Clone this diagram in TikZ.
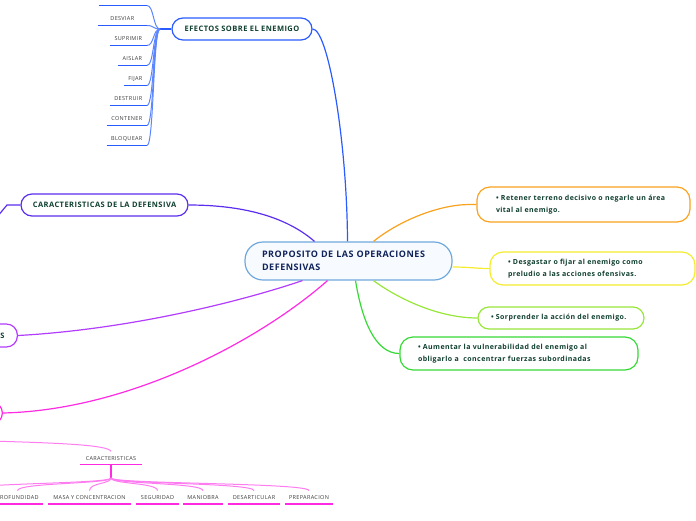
\documentclass[tikz,border=0pt]{standalone}
\usepackage{fontspec}
\setmainfont{Open Sans}[LetterSpace=6]
\usetikzlibrary{calc}

\definecolor{cenline}{HTML}{6FA8DC}
\definecolor{cenfill}{HTML}{F7FBFF}
\definecolor{centext}{HTML}{10235A}
\definecolor{boxtext}{HTML}{0F3F30}
\definecolor{leaftext}{HTML}{3A3A3A}
\definecolor{efblue}{HTML}{2A5BFF}
\definecolor{eflight}{HTML}{5C86FF}
\definecolor{cdblue}{HTML}{5B2DEF}
\definecolor{violetc}{HTML}{B23CFF}
\definecolor{magentac}{HTML}{FF2BE2}
\definecolor{magentalight}{HTML}{FF7CF0}
\definecolor{orangec}{HTML}{F9A21E}
\definecolor{yellowc}{HTML}{F4EC2C}
\definecolor{limec}{HTML}{98E63A}
\definecolor{greenc}{HTML}{36D936}

\begin{document}
\begin{tikzpicture}[x=1pt, y=-1pt,
  topic/.style={draw=#1, line width=1.2pt, rounded corners=11pt, fill=white,
    font=\bfseries\fontsize{7.5}{9}\selectfont, text=boxtext, minimum height=22pt},
  idea/.style={draw=#1, line width=1.2pt, rounded corners=13pt, fill=white, align=left,
    font=\bfseries\fontsize{7}{12}\selectfont, text=boxtext, inner xsep=18pt},
  leaf/.style={font=\fontsize{5.5}{6}\selectfont, text=leaftext, inner xsep=4pt,
    inner ysep=4.5pt, text depth=0pt},
  ul/.style={draw=#1, line width=1.5pt},
  link/.style={draw=#1, line width=1.2pt}]

\useasboundingbox (0,0) rectangle (696,520);
\clip (0,0) rectangle (696,520);

% central topic
\node[draw=cenline, fill=cenfill, line width=1.2pt, rounded corners=18pt, text width=173pt,
  inner xsep=17pt, minimum height=38pt, align=left, text=centext,
  font=\bfseries\fontsize{9}{13}\selectfont] (cen) at (348.5,261)
  {PROPOSITO DE LAS OPERACIONES\\DEFENSIVAS};

% right side
\node[idea=orangec, text width=175pt, inner xsep=19pt, minimum height=35pt] (ret) at (583.5,204.5)
  {• Retener terreno decisivo o negarle un área\\vital al enemigo.};
\node[idea=yellowc, text width=169pt, minimum height=33pt] (des) at (592.5,268.5)
  {• Desgastar o fijar al enemigo como\\preludio a las acciones ofensivas.};
\node[idea=limec, text width=140pt, inner xsep=13pt, minimum height=22pt, rounded corners=11pt] (sor) at (561,318)
  {• Sorprender la acción del enemigo.};
\node[idea=greenc, text width=202pt, minimum height=33pt] (aum) at (519,353.5)
  {• Aumentar la vulnerabilidad del enemigo al\\obligarlo a~ concentrar fuerzas subordinadas};

% left side
\node[topic=efblue, minimum width=140pt] (ef) at (242,29) {EFECTOS SOBRE EL ENEMIGO};
\node[topic=cdblue, minimum width=167pt] (cd) at (104.5,205) {CARACTERISTICAS DE LA DEFENSIVA};
\node[topic=violetc, text width=80pt, align=right, inner xsep=13pt, minimum height=23pt, anchor=east] (pri) at (18,335.5) {AS};
\node[topic=magentac, minimum width=60pt, anchor=east] (mag) at (3,413) {};

% main branches
\draw[link=efblue] ([xshift=-1pt]cen.north) .. controls (347,140) and (328,29) .. (ef.east);
\draw[link=cdblue] ([xshift=-34pt]cen.north) .. controls (290,220) and (250,205) .. (cd.east);
\draw[link=orangec] ([xshift=25pt]cen.north) .. controls (400,220) and (440,204.5) .. ([xshift=-7pt]ret.west) -- (ret.west);
\draw[link=yellowc] ([yshift=-6pt]cen.east) .. controls (470,267) and (475,268.5) .. (des.west);
\draw[link=limec] ([xshift=25pt]cen.south) .. controls (400,300) and (440,318) .. (sor.west);
\draw[link=greenc] ([xshift=7pt]cen.south) .. controls (362,320) and (375,353.5) .. (aum.west);
\draw[link=violetc] ([xshift=-46pt]cen.south) .. controls (230,305) and (120,330) .. (pri.east);
\draw[link=magentac] ([xshift=-21pt]cen.south) .. controls (260,340) and (130,410) .. (mag.east);

% efectos
\coordinate (efj) at (160,29);
\draw[link=efblue] (ef.west) -- (efj);
\foreach \name/\yy/\w [count=\i] in {NEUTRALIZAR/5.5/48, DESVIAR/25.5/49, SUPRIMIR/45.5/37,
    AISLAR/65.5/29, FIJAR/85.5/23, DESTRUIR/105.5/37, CONTENER/125.5/40, BLOQUEAR/145.5/40}{
  \node[leaf, anchor=south east, minimum width=\w pt] (ef\i) at (147,\yy) {\name};
  \draw[ul=efblue] (ef\i.south west) -- (ef\i.south east);
  \draw[link=eflight, line width=1pt] (efj) .. controls +(-7,0) and +(7,0) .. (ef\i.south east);
}

% caracteristicas de la defensiva, hidden child
\coordinate (cdl) at (7,205);
\coordinate (cdc) at (-3,217);
\draw[link=cdblue] (cd.west) -- (cdl) -- (cdc);

% caracteristicas (lower)
\coordinate (carin) at (-10,441);
\node[leaf, minimum width=62pt] (car) at (111,458) {CARACTERISTICAS};
\draw[ul=magentac] (car.south west) -- (car.south east);
\draw[link=magentalight, line width=1pt] (carin) .. controls (60,443) and (108,445) .. (car.north);
\coordinate (cstub) at (111,478);
\draw[link=magentac, line width=1.5pt] (car.south) -- (cstub);
\coordinate (chx) at (-45,491);
\draw[link=magentalight, line width=1pt] (cstub) .. controls +(0,6) and +(0,-8) .. (chx);
\foreach \name/\xx/\w [count=\i] in {PROFUNDIDAD/17.5/51, MASA Y CONCENTRACION/89.5/83,
    SEGURIDAD/157.5/43, MANIOBRA/203/40, DESARTICULAR/254/52, PREPARACION/309/48}{
  \node[leaf, anchor=south, minimum width=\w pt] (ch\i) at (\xx,504) {\name};
  \draw[ul=magentac] (ch\i.south west) -- (ch\i.south east);
  \draw[link=magentalight, line width=1pt] (cstub) .. controls +(0,6) and +(0,-8) .. (ch\i.north);
}
\end{tikzpicture}
\end{document}
